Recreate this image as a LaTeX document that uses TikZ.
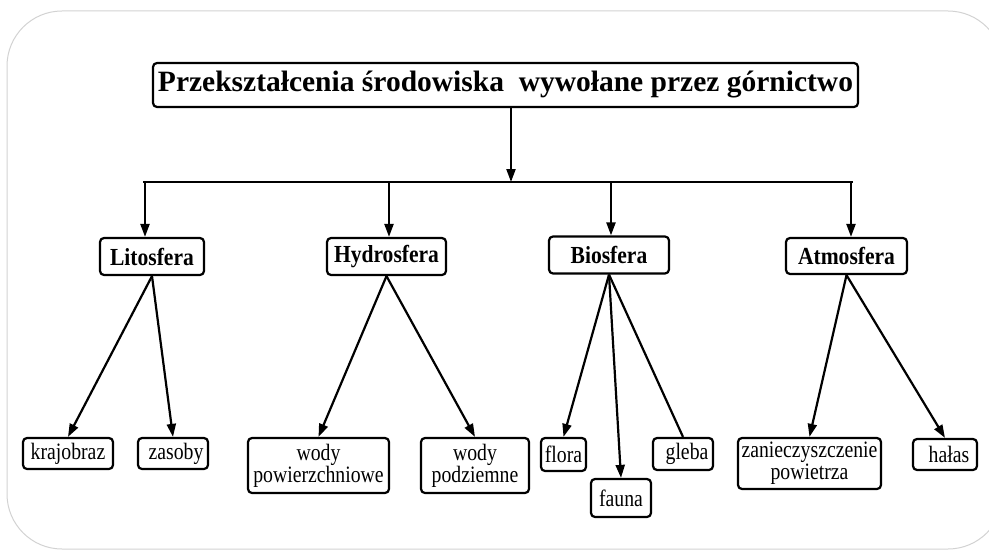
\documentclass[tikz,border=0pt]{standalone}
\usepackage{fontspec}
\setmainfont{Liberation Serif}
\newfontfamily\sferafont[FakeStretch=0.88]{Liberation Serif}
\newfontfamily\leaffont[FakeStretch=0.84]{Liberation Serif}
\usetikzlibrary{arrows.meta}
\tikzset{
  box/.style={draw, line width=2.2pt, rounded corners=4pt, inner sep=0pt, align=center},
  titlebox/.style={box, minimum width=705pt, minimum height=44pt,
    font=\fontsize{29.5}{30}\selectfont\bfseries},
  sferabox/.style={box, minimum height=37pt, font=\sferafont\fontsize{24.5}{25}\selectfont\bfseries},
  leafbox/.style={box, font=\leaffont\fontsize{23.5}{22}\selectfont},
  arr/.style={-{Triangle[length=13pt,width=9pt]}, line width=2.2pt},
  link/.style={line width=2.2pt}
}

\begin{document}
\begin{tikzpicture}[x=1pt, y=-1pt]
  \useasboundingbox (0,0) rectangle (989,551);
  \draw[gray!35, line width=1pt, rounded corners=55pt] (7,11) rectangle (1003,549);
  % top
  \node[titlebox] (title) at (505.5,85) {Przekształcenia środowiska\ \ wywołane przez górnictwo};
  % spheres
  \node[sferabox, minimum width=104pt] (lito) at (152,256.5) {Litosfera};
  \node[sferabox, minimum width=119pt] (hydro) at (386.5,256.5) {Hydrosfera};
  \node[sferabox, minimum width=120pt] (bio) at (609,255) {Biosfera};
  \node[sferabox, minimum width=121pt, minimum height=36pt] (atmo) at (846.5,256) {Atmosfera};
  % leaves
  \node[leafbox, minimum width=90pt, minimum height=31pt] (kraj) at (68,453.5) {krajobraz};
  \node[leafbox, minimum width=70pt, minimum height=31pt] (zas) at (173,453.5) {\hspace{6pt}zasoby};
  \node[leafbox, minimum width=141pt, minimum height=55pt] (wpow) at (318.5,465.5) {wody\\powierzchniowe};
  \node[leafbox, minimum width=108pt, minimum height=55pt] (wpod) at (475,465.5) {wody\\podziemne};
  \node[leafbox, minimum width=45pt, minimum height=33pt] (flora) at (563.5,454.5) {flora};
  \node[leafbox, minimum width=60pt, minimum height=38pt] (fauna) at (621,498) {fauna};
  \node[leafbox, minimum width=60pt, minimum height=32pt] (gleba) at (683,454) {\hspace{8pt}gleba};
  \node[leafbox, minimum width=143pt, minimum height=51pt] (zan) at (809.5,463.5) {zanieczyszczenie\\powietrza};
  \node[leafbox, minimum width=64pt, minimum height=31pt] (halas) at (945,454.5) {\hspace{8pt}hałas};
  % bus
  \coordinate (bus) at (511,182);
  \coordinate (busL) at (143,182);
  \coordinate (busR) at (853,182);
  \draw[arr] (title.south -| bus) -- (bus);
  \draw[link] (busL) -- (busR);
  \foreach \x/\n in {145/lito, 389/hydro, 611/bio, 851/atmo} {
    \coordinate (j-\n) at (\x,182);
    \draw[arr] (j-\n) -- (j-\n |- \n.north);
  }
  % lower links
  \foreach \a/\b in {lito/kraj, lito/zas, hydro/wpow, hydro/wpod, bio/flora, bio/fauna, atmo/zan, atmo/halas}
    \draw[arr] (\a.south) -- (\b.north);
  \draw[link] (bio.south) -- (gleba.north);
\end{tikzpicture}
\end{document}
